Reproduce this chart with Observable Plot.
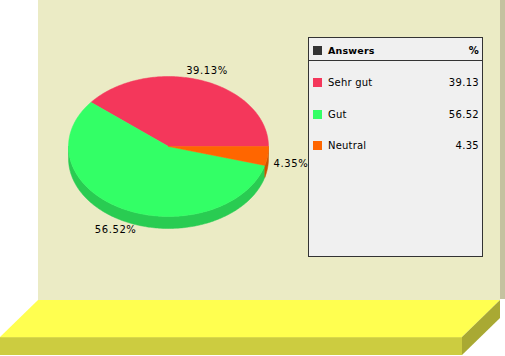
<!DOCTYPE html>
<html><head><meta charset="utf-8">
<script src="https://cdn.jsdelivr.net/npm/d3@7"></script>
<script src="https://cdn.jsdelivr.net/npm/@observablehq/plot@0.6"></script>
<style>
html,body{margin:0;padding:0;background:#fff;}
#wrap{position:relative;width:505px;height:356px;overflow:hidden;font-family:"DejaVu Sans",Verdana,sans-serif;}
.bg{position:absolute;}
#chart{position:absolute;left:0;top:0;}
#chart text{letter-spacing:0.6px;}
#legend{position:absolute;left:308px;top:37px;width:175px;height:220px;box-sizing:border-box;border:1px solid #333;background:#f0f0f0;font-size:10px;color:#000;}
#legend .hdr{position:absolute;left:0;top:0;width:100%;height:23px;border-bottom:1px solid #333;box-sizing:border-box;}
#legend .sw{position:absolute;left:4px;width:9px;height:9px;}
#legend .lab{position:absolute;left:19px;line-height:12px;letter-spacing:0.2px;}
#legend .val{position:absolute;right:3px;line-height:12px;letter-spacing:0.3px;}
</style></head>
<body>
<div id="wrap">
  <div class="bg" style="left:38px;top:0;width:462px;height:300px;background:#ebebc5"></div>
  <div class="bg" style="left:500px;top:0;width:5px;height:299px;background:#c4c2a0"></div>
  <div class="bg" style="left:0;top:300px;width:500px;height:37px;background:#ffff50;clip-path:polygon(38px 0,500px 0,462px 37px,0 37px)"></div>
  <div class="bg" style="left:0;top:337px;width:462px;height:18px;background:#cccc40;border-top:1px solid #d9d94a;box-sizing:border-box"></div>
  <div class="bg" style="left:462px;top:300px;width:38px;height:55px;background:#a9a933;clip-path:polygon(0 37px,38px 0,38px 18px,0 55px)"></div>
  <div id="chart"></div>
  <div id="legend"></div>
</div>
<script>
const categories = ["Sehr gut", "Gut", "Neutral"];
const percents = [39.13, 56.52, 4.35];
const colors = ["#f4375b", "#33ff66", "#ff6600"];
const sideColors = ["#c32c49", "#29cc52", "#cc5200"];
const legendTitle = "Answers";
const legendUnit = "%";

const depth = 12 / 70; // pie thickness in unit-radius coordinates
const total = d3.sum(percents);
let acc = 0;
const slices = categories.map((c, i) => {
  const a0 = acc / total * 2 * Math.PI;
  acc += percents[i];
  const a1 = acc / total * 2 * Math.PI;
  return {category: c, value: percents[i], a0, a1, color: colors[i], side: sideColors[i]};
});

function arcPts(a0, a1, dy) {
  const n = Math.max(2, Math.ceil((a1 - a0) / (Math.PI / 180)));
  const pts = [];
  for (let k = 0; k <= n; k++) {
    const a = a0 + (a1 - a0) * k / n;
    pts.push({x: Math.cos(a), y: -Math.sin(a) + dy});
  }
  return pts;
}

const marks = [];
// visible side walls (front half: angles PI..2PI)
for (const s of slices) {
  const b0 = Math.max(s.a0, Math.PI), b1 = Math.min(s.a1, 2 * Math.PI);
  if (b1 <= b0) continue;
  const pts = arcPts(b0, b1, 0).concat(arcPts(b0, b1, depth).reverse());
  pts.push(pts[0]);
  marks.push(Plot.line(pts, {x: "x", y: "y", fill: s.side, stroke: s.side, strokeWidth: 0.5}));
}
// top faces
for (const s of slices) {
  const pts = [{x: 0, y: 0}, ...arcPts(s.a0, s.a1, 0), {x: 0, y: 0}];
  marks.push(Plot.line(pts, {x: "x", y: "y", fill: s.color, stroke: s.color, strokeWidth: 0.5}));
}
// labels
const labels = slices.map(s => {
  const m = (s.a0 + s.a1) / 2, c = Math.cos(m), sn = Math.sin(m);
  const anchor = c > 0.9 ? "start" : c < -0.9 ? "end" : "middle";
  const r = anchor === "middle" ? 1.15 : 1.06;
  let y = -sn * 1.15;
  if (sn < 0) y += depth * (Math.abs(sn) > 0.5 ? 1 : 0.5);
  return {x: c * r, y, anchor, text: s.value.toFixed(2) + "%"};
});
for (const a of ["start", "middle", "end"]) {
  const d = labels.filter(l => l.anchor === a);
  if (d.length) marks.push(Plot.text(d, {x: "x", y: "y", text: "text", textAnchor: a, fill: "#000", fontSize: 10, fontFamily: "DejaVu Sans"}));
}

const chart = Plot.plot({
  width: 505, height: 356, margin: 0,
  x: {domain: [-1, 1], range: [68, 268], axis: null},
  y: {domain: [-1, 1], range: [76, 216], axis: null},
  style: {background: "transparent", overflow: "visible"},
  marks
});
document.getElementById("chart").appendChild(chart);

// legend
const lg = d3.select("#legend");
const hdr = lg.append("div").attr("class", "hdr");
hdr.append("div").attr("class", "sw").style("top", "8px").style("background", "#333");
hdr.append("div").attr("class", "lab").style("top", "7px").style("font-weight", "bold").style("font-size", "9.5px").text(legendTitle);
hdr.append("div").attr("class", "val").style("top", "7px").style("font-weight", "bold").text(legendUnit);
categories.forEach((c, i) => {
  const top = 39 + i * 31.5;
  lg.append("div").attr("class", "sw").style("top", (top + 1) + "px").style("background", colors[i]);
  lg.append("div").attr("class", "lab").style("top", top + "px").text(c);
  lg.append("div").attr("class", "val").style("top", top + "px").text(percents[i].toFixed(2));
});
</script>
</body></html>
